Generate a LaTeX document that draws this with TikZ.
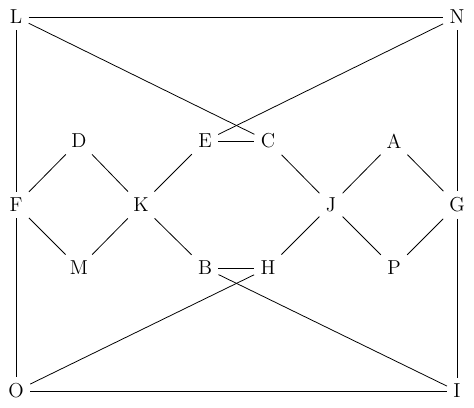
\documentclass[tikz,border=0pt]{standalone}
\begin{document}
\begin{tikzpicture}[x=0.57pt,y=-0.57pt,
  vtx/.style={inner sep=3.5pt,font=\fontsize{11.5}{14}\selectfont},
  edge/.style={draw,line width=0.45pt}]
\useasboundingbox (0,0) rectangle (474,408);
\node[vtx] (L) at (16,17) {L};
\node[vtx] (N) at (457,17) {N};
\node[vtx] (D) at (79,141) {D};
\node[vtx] (E) at (205,141) {E};
\node[vtx] (C) at (268,141) {C};
\node[vtx] (A) at (394,141) {A};
\node[vtx] (F) at (16,205) {F};
\node[vtx] (K) at (141,205) {K};
\node[vtx] (J) at (331,205) {J};
\node[vtx] (G) at (457,205) {G};
\node[vtx] (M) at (79,268) {M};
\node[vtx] (B) at (205,268) {B};
\node[vtx] (H) at (268,268) {H};
\node[vtx] (P) at (394,268) {P};
\node[vtx] (O) at (16,391) {O};
\node[vtx] (I) at (457,391) {I};
\foreach \a/\b in {L/N,L/F,F/O,O/I,N/G,G/I,L/C,N/E,E/C,D/F,D/K,F/M,M/K,K/E,K/B,C/J,J/H,J/A,J/P,A/G,P/G,B/H,O/H,B/I}
  \draw[edge] (\a) -- (\b);
\end{tikzpicture}
\end{document}
